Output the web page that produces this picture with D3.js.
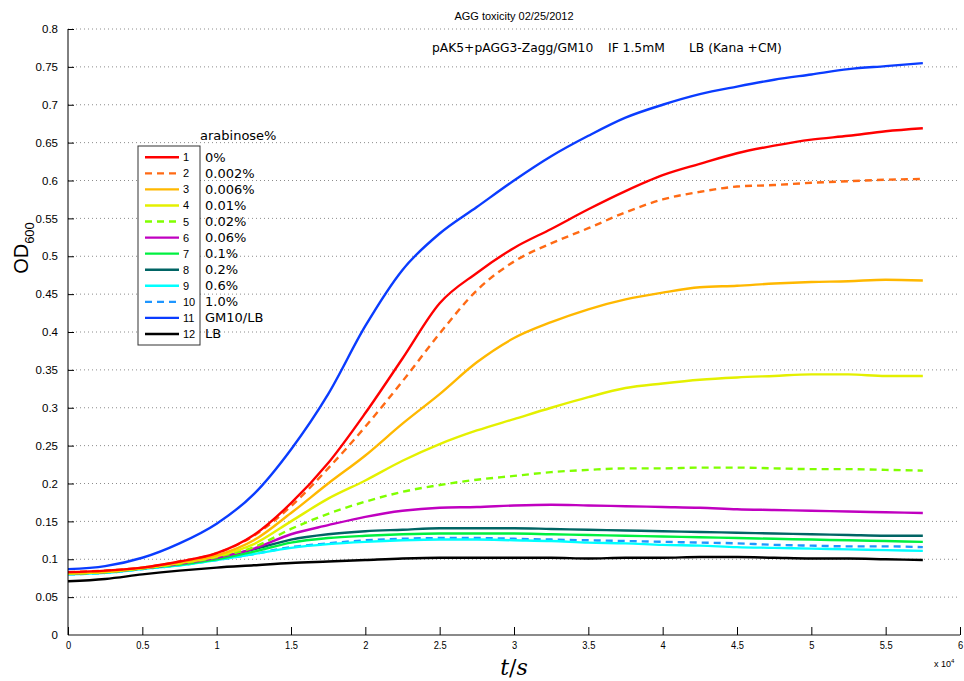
<!DOCTYPE html>
<html>
<head>
<meta charset="utf-8">
<script src="https://cdnjs.cloudflare.com/ajax/libs/d3/7.8.5/d3.min.js"></script>
<style>
  body { margin: 0; background: #fff; }
  text { fill: #000; }
</style>
</head>
<body>
<div id="chart"></div>
<script>
// time points (s)
var timeSec = [0, 2500, 5000, 7500, 10000, 12500, 15000, 17500, 20000, 22500, 25000, 27500,
  30000, 32500, 35000, 37500, 40000, 42500, 45000, 47500, 50000, 52500, 55000, 57500];

// OD600 per arabinose level
var od_0     = [0.083, 0.085, 0.089, 0.097, 0.108, 0.132, 0.174, 0.227, 0.293, 0.365, 0.438, 0.478, 0.511, 0.536, 0.562, 0.586, 0.607, 0.622, 0.636, 0.646, 0.654, 0.659, 0.665, 0.669];
var od_0002  = [0.083, 0.085, 0.089, 0.097, 0.108, 0.131, 0.170, 0.220, 0.275, 0.335, 0.398, 0.455, 0.493, 0.517, 0.537, 0.558, 0.575, 0.585, 0.592, 0.594, 0.597, 0.599, 0.601, 0.602];
var od_0006  = [0.082, 0.084, 0.089, 0.096, 0.105, 0.125, 0.161, 0.200, 0.237, 0.279, 0.318, 0.360, 0.392, 0.413, 0.430, 0.443, 0.452, 0.459, 0.461, 0.464, 0.466, 0.467, 0.469, 0.468];
var od_001   = [0.081, 0.083, 0.088, 0.095, 0.104, 0.120, 0.150, 0.180, 0.204, 0.230, 0.252, 0.270, 0.285, 0.300, 0.314, 0.326, 0.332, 0.337, 0.340, 0.342, 0.344, 0.344, 0.342, 0.342];
var od_002   = [0.081, 0.083, 0.088, 0.094, 0.103, 0.116, 0.140, 0.160, 0.176, 0.189, 0.198, 0.205, 0.210, 0.215, 0.218, 0.220, 0.220, 0.221, 0.221, 0.220, 0.219, 0.219, 0.218, 0.217];
var od_006   = [0.081, 0.083, 0.088, 0.094, 0.102, 0.114, 0.133, 0.145, 0.156, 0.164, 0.168, 0.169, 0.171, 0.172, 0.171, 0.170, 0.169, 0.168, 0.166, 0.165, 0.164, 0.163, 0.162, 0.161];
var od_01    = [0.081, 0.083, 0.088, 0.093, 0.100, 0.110, 0.122, 0.128, 0.131, 0.133, 0.134, 0.134, 0.134, 0.133, 0.132, 0.131, 0.130, 0.129, 0.128, 0.127, 0.126, 0.125, 0.124, 0.123];
var od_02    = [0.081, 0.083, 0.088, 0.094, 0.102, 0.113, 0.126, 0.133, 0.137, 0.139, 0.141, 0.141, 0.141, 0.140, 0.139, 0.138, 0.137, 0.136, 0.135, 0.134, 0.133, 0.132, 0.131, 0.131];
var od_06    = [0.080, 0.082, 0.087, 0.092, 0.099, 0.107, 0.115, 0.120, 0.123, 0.125, 0.126, 0.126, 0.125, 0.124, 0.122, 0.121, 0.119, 0.118, 0.116, 0.115, 0.114, 0.113, 0.112, 0.111];
var od_10    = [0.080, 0.082, 0.087, 0.092, 0.099, 0.107, 0.116, 0.121, 0.125, 0.127, 0.128, 0.128, 0.127, 0.126, 0.125, 0.124, 0.123, 0.122, 0.121, 0.119, 0.118, 0.117, 0.117, 0.116];
var od_gm10  = [0.087, 0.091, 0.102, 0.121, 0.147, 0.186, 0.245, 0.318, 0.408, 0.482, 0.530, 0.565, 0.600, 0.632, 0.659, 0.683, 0.700, 0.714, 0.724, 0.733, 0.740, 0.747, 0.751, 0.755];
var od_lb    = [0.071, 0.074, 0.080, 0.085, 0.089, 0.092, 0.095, 0.097, 0.099, 0.101, 0.102, 0.102, 0.102, 0.102, 0.101, 0.102, 0.102, 0.103, 0.103, 0.102, 0.101, 0.101, 0.100, 0.099];

var seriesLabels = ["0%", "0.002%", "0.006%", "0.01%", "0.02%", "0.06%", "0.1%", "0.2%", "0.6%", "1.0%", "GM10/LB", "LB"];
var seriesValues = [od_0, od_0002, od_0006, od_001, od_002, od_006, od_01, od_02, od_06, od_10, od_gm10, od_lb];
var seriesColors = ["#ff0000", "#ff6a14", "#ffb800", "#e4f000", "#80ff00", "#c000c0", "#00f040", "#006464", "#00ffff", "#1e96ff", "#0a3cff", "#000000"];
var seriesDashed = [false, true, false, false, true, false, false, false, false, true, false, false];

var xTickValues = [0, 5000, 10000, 15000, 20000, 25000, 30000, 35000, 40000, 45000, 50000, 55000, 60000];
var yTickValues = [0, 0.05, 0.1, 0.15, 0.2, 0.25, 0.3, 0.35, 0.4, 0.45, 0.5, 0.55, 0.6, 0.65, 0.7, 0.75, 0.8];

var W = 964, H = 681;
var margin = {top: 29, right: 4, bottom: 46, left: 68},
    width = W - margin.left - margin.right,
    height = H - margin.top - margin.bottom;

var svg = d3.select("#chart").append("svg")
    .attr("width", W).attr("height", H)
    .style("font-family", "'Liberation Sans', Arial, sans-serif");

var g = svg.append("g").attr("transform", "translate(" + margin.left + "," + margin.top + ")");

var x = d3.scaleLinear().domain([0, 60000]).range([0, width]);
var y = d3.scaleLinear().domain([0, 0.8]).range([height, 0]);

// dotted horizontal grid
g.append("g").selectAll("line")
  .data(yTickValues.filter(function(d){ return d > 0; }))
  .enter().append("line")
    .attr("x1", 0).attr("x2", width)
    .attr("y1", function(d){ return y(d); }).attr("y2", function(d){ return y(d); })
    .attr("stroke", "#8c8c8c").attr("stroke-width", 1)
    .attr("stroke-dasharray", "1,3");

// curves
var line = d3.line()
  .x(function(d, i){ return x(timeSec[i]); })
  .y(function(d){ return y(d); })
  .curve(d3.curveMonotoneX);

// draw in reverse so series 1 lies on top
for (var k = seriesValues.length - 1; k >= 0; k--) {
  g.append("path")
    .datum(seriesValues[k])
    .attr("fill", "none")
    .attr("stroke", seriesColors[k])
    .attr("stroke-width", 2.4)
    .attr("stroke-linejoin", "round")
    .attr("stroke-dasharray", seriesDashed[k] ? "7,5" : null)
    .attr("d", line);
}

// Y axis
var yAxis = g.append("g")
  .call(d3.axisLeft(y).tickValues(yTickValues).tickSize(-6).tickPadding(10)
        .tickFormat(function(d){ return d3.format("")(+d.toFixed(2)); }));
yAxis.select(".domain").attr("stroke", "#000").attr("d", "M0," + height + "V0");
yAxis.selectAll(".tick line").attr("stroke", "#000");
yAxis.selectAll("text").attr("font-size", "11.5px").attr("fill", "#222");

// X axis
var xAxis = g.append("g")
  .attr("transform", "translate(0," + height + ")")
  .call(d3.axisBottom(x).tickValues(xTickValues).tickSize(-8).tickPadding(6)
        .tickFormat(function(d){ return d3.format("")(d / 10000); }));
xAxis.select(".domain").attr("stroke", "#8a8a8a").attr("stroke-width", 2).attr("d", "M0,0H" + width);
xAxis.selectAll(".tick line").attr("stroke", "#000");
xAxis.selectAll("text").attr("font-size", "11px").attr("fill", "#222")
  .attr("transform", "scale(0.85,1)");

// axis labels
svg.append("text")
  .attr("x", margin.left + width / 2).attr("y", 675)
  .attr("text-anchor", "middle")
  .style("font-family", "'DejaVu Serif', 'Liberation Serif', serif")
  .style("font-size", "22px")
  .html('<tspan font-style="italic">t</tspan>/<tspan font-style="italic">s</tspan>');

svg.append("text")
  .attr("x", 934).attr("y", 667)
  .style("font-size", "9px")
  .html('x 10<tspan dy="-4" font-size="6px">4</tspan>');

svg.append("text")
  .attr("transform", "translate(28,248) rotate(-90)")
  .attr("text-anchor", "middle")
  .style("font-size", "20px")
  .html('OD<tspan dy="6" font-size="13px">600</tspan>');

// titles
svg.append("text")
  .attr("x", margin.left + width / 2).attr("y", 19.5)
  .attr("text-anchor", "middle")
  .style("font-size", "11px")
  .text("AGG toxicity 02/25/2012");

var sub = svg.append("g").style("font-family", "'DejaVu Sans', Verdana, sans-serif").style("font-size", "12.3px");
sub.append("text").attr("x", 432).attr("y", 52).text("pAK5+pAGG3-Zagg/GM10");
sub.append("text").attr("x", 608).attr("y", 52).text("IF 1.5mM");
sub.append("text").attr("x", 689).attr("y", 52).text("LB (Kana +CM)");

// legend
var legX = 138, legY = 146, legW = 62, legH = 199, rowH = 16.06, row0 = 157.3;
var leg = svg.append("g");
leg.append("rect")
  .attr("x", legX).attr("y", legY).attr("width", legW).attr("height", legH)
  .attr("fill", "#fff").attr("stroke", "#333").attr("stroke-width", 1);

var rows = leg.selectAll(".row").data(seriesLabels).enter().append("g")
  .attr("transform", function(d, i){ return "translate(0," + (row0 + i * rowH) + ")"; });
rows.append("line")
  .attr("x1", 145).attr("x2", 179).attr("y1", 0).attr("y2", 0)
  .attr("stroke", function(d, i){ return seriesColors[i]; })
  .attr("stroke-width", 2.4)
  .attr("stroke-dasharray", function(d, i){ return seriesDashed[i] ? "7,5" : null; });
rows.append("text")
  .attr("x", 183).attr("y", 4)
  .style("font-size", "11px")
  .text(function(d, i){ return i + 1; });
rows.append("text")
  .attr("x", 205).attr("y", 4.5)
  .style("font-family", "'DejaVu Sans', Verdana, sans-serif")
  .style("font-size", "13px")
  .text(function(d){ return d; });

svg.append("text")
  .attr("x", 200).attr("y", 139.5)
  .style("font-family", "'DejaVu Sans', Verdana, sans-serif")
  .style("font-size", "13px")
  .text("arabinose%");
</script>
</body>
</html>
